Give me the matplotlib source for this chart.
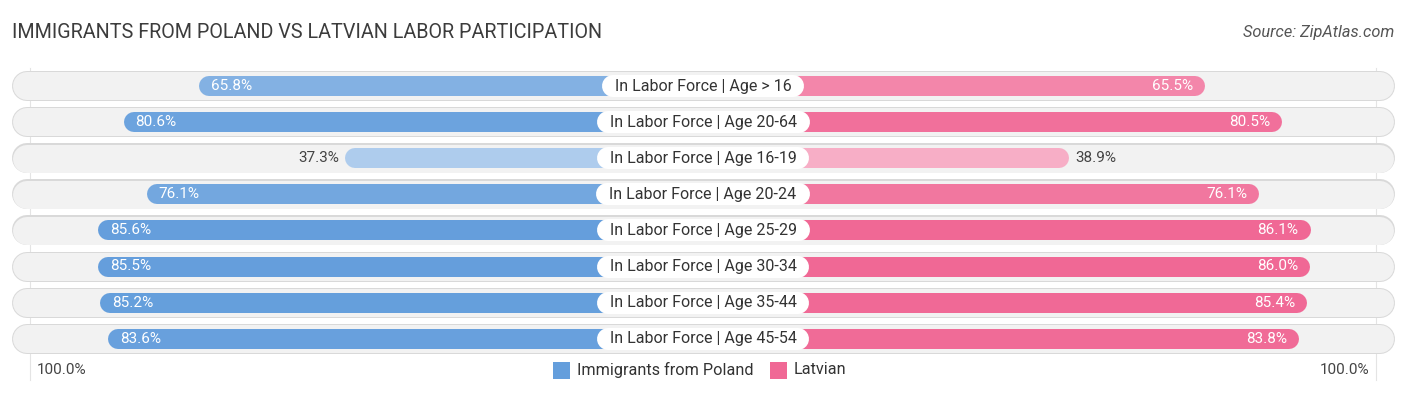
import numpy as np
import matplotlib.pyplot as plt

categories = ["In Labor Force | Age > 16", "In Labor Force | Age 20-64",
              "In Labor Force | Age 16-19", "In Labor Force | Age 20-24",
              "In Labor Force | Age 25-29", "In Labor Force | Age 30-34",
              "In Labor Force | Age 35-44", "In Labor Force | Age 45-54"]
poland = [65.8, 80.6, 37.3, 76.1, 85.6, 85.5, 85.2, 83.6]
latvian = [65.5, 80.5, 38.9, 76.1, 86.1, 86.0, 85.4, 83.8]

W, H = 1406, 395
PX = 5.11           # pixels per percent
OFF = 32.8          # offset (in % units) taken by the centre label
ROW0, ROWH = 86, 36.1

BLUE = np.array([100, 158, 220]) / 255
PINK = np.array([240, 104, 149]) / 255


def shade(base, v):
    # lighter colour for smaller values
    t = 0.45 + 0.55 * np.clip((v - 30) / (86 - 30), 0, 1)
    return tuple(1 - t * (1 - base))


fig = plt.figure(figsize=(W / 100, H / 100), dpi=100)
ax = fig.add_axes([0, 0, 1, 1])
half = W / 2 / PX
ax.set_xlim(-half, half)
ax.set_ylim((H - ROW0) / ROWH, -ROW0 / ROWH)
ax.axis("off")

pt = 72 / 100  # points per pixel
font = "Roboto"
renderer = fig.canvas.get_renderer()

# faint lines at 100%
for s in (-1, 1):
    ax.plot([s * (OFF + 100 - 1)] * 2, [-0.5, len(categories) + 0.15], color="#e4e4e4", lw=0.8, zorder=0)

for i, cat in enumerate(categories):
    # background pill
    bx = (W / 2 - 12 - 14.5) / PX
    ax.plot([-bx, bx], [i, i], color="#d9d9d9", lw=30 * pt, solid_capstyle="round", zorder=1)
    ax.plot([-bx, bx], [i + 0.01, i + 0.01], color="#f2f2f2", lw=28 * pt, solid_capstyle="round", zorder=1)

    r = 10 / PX
    lp, lv = poland[i], latvian[i]
    ax.plot([-(OFF + lp) + r, -r], [i, i], color=shade(BLUE, lp), lw=20 * pt,
            solid_capstyle="round", zorder=2)
    ax.plot([r, OFF + lv - r], [i, i], color=shade(PINK, lv), lw=20 * pt,
            solid_capstyle="round", zorder=2)

    # centre label with white pill behind it
    t = ax.text(0, i, cat, ha="center", va="center", fontsize=11.5, family=font, color="#333333", zorder=5)
    tw = t.get_window_extent(renderer).width
    lx = (tw / 2 + 13 - 11) / PX
    ax.plot([-lx, lx], [i, i], color="white", lw=22 * pt, solid_capstyle="round", zorder=4)

    # value labels
    if lp > 50:
        ax.text(-(OFF + lp) + 12 / PX, i, f"{lp:.1f}%", ha="left", va="center", fontsize=11,
                family=font, color="white", zorder=3)
    else:
        ax.text(-(OFF + lp) - 6 / PX, i, f"{lp:.1f}%", ha="right", va="center", fontsize=11,
                family=font, color="#444444", zorder=3)
    if lv > 50:
        ax.text(OFF + lv - 12 / PX, i, f"{lv:.1f}%", ha="right", va="center", fontsize=11,
                family=font, color="white", zorder=3)
    else:
        ax.text(OFF + lv + 6 / PX, i, f"{lv:.1f}%", ha="left", va="center", fontsize=11,
                family=font, color="#444444", zorder=3)

# title and source
fig.text(12 / W, 1 - 33 / H, "IMMIGRANTS FROM POLAND VS LATVIAN LABOR PARTICIPATION", ha="left", va="center",
         fontsize=14.2, family=font, color="#3c3c3c")
fig.text(1 - 12 / W, 1 - 33 / H, "Source: ZipAtlas.com", ha="right", va="center", fontsize=11.8,
         family=font, style="italic", color="#555555")

# bottom axis labels
ly = 1 - 370 / H
fig.text(37 / W, ly, "100.0%", ha="left", va="center", fontsize=11, family=font, color="#444444")
fig.text(1369 / W, ly, "100.0%", ha="right", va="center", fontsize=11, family=font, color="#444444")

# legend
for x0, col, lab in [(553, BLUE, "Immigrants from Poland"), (770, PINK, "Latvian")]:
    fig.patches.append(plt.Rectangle((x0 / W, ly - 8.5 / H), 17 / W, 17 / H, transform=fig.transFigure,
                                     fc=tuple(col), ec="none"))
    fig.text((x0 + 24) / W, ly, lab, ha="left", va="center", fontsize=11.7, family=font, color="#333333")

fig.savefig("out.png", dpi=100)
